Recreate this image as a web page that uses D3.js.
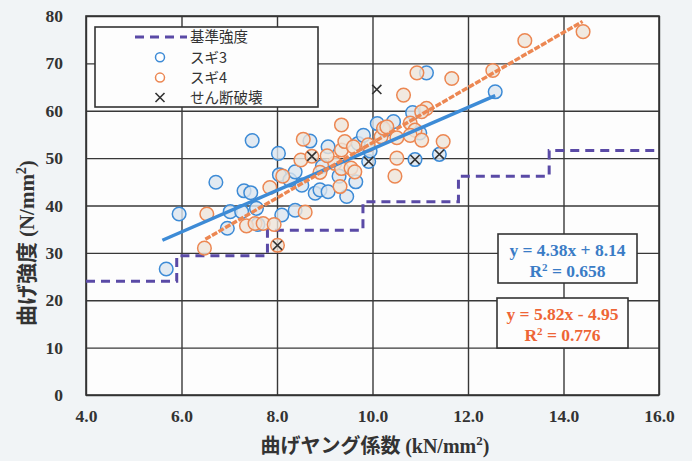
<!DOCTYPE html>
<html><head><meta charset="utf-8">
<script src="https://cdn.jsdelivr.net/npm/d3@7"></script>
<style>
html,body{margin:0;padding:0;background:#f1f4f6;}
svg{display:block;}
</style></head><body>
<svg id="chart" width="692" height="461"></svg>
<script>
// Bending modulus of elasticity (kN/mm²) vs bending strength (N/mm²)
const xTicks = [4, 6, 8, 10, 12, 14, 16];
const yTicks = [0, 10, 20, 30, 40, 50, 60, 70, 80];

// スギ3 specimens: [MOE, strength]
const sugi3 = [
  [5.68,26.6],[5.95,38.2],[6.72,44.9],[6.96,35.2],[7.02,38.7],[7.26,38.7],[7.31,43.1],
  [7.45,42.7],[7.48,53.7],[7.57,39.4],[7.60,36.0],[8.03,51.0],[8.05,46.5],[8.10,38.0],
  [8.27,45.4],[8.38,47.1],[8.52,44.3],[8.38,39.0],[8.69,53.6],[8.80,42.6],[8.90,43.3],
  [9.07,42.9],[9.07,52.4],[9.46,41.9],[9.65,45.0],[9.70,53.1],[9.81,54.8],[9.92,49.3],
  [10.26,55.9],[10.44,57.7],[10.84,59.6],[10.89,49.7],[11.13,68.0],[11.40,50.8],
  [12.57,64.0],[10.99,55.3],[9.95,51.5],[8.95,48.3],[10.10,57.3],[9.30,46.2]
];
// スギ4 specimens
const sugi4 = [
  [6.48,31.0],[6.53,38.2],[7.36,35.7],[7.54,36.2],[7.71,36.2],[7.94,36.0],[7.85,43.8],
  [8.12,46.2],[8.01,31.6],[8.55,54.0],[8.50,49.6],[8.59,38.6],[8.73,50.4],[9.21,48.9],
  [9.32,44.0],[9.35,47.8],[9.35,51.7],[9.35,57.0],[9.42,53.5],[9.55,47.9],[9.60,52.4],
  [9.63,47.1],[9.91,52.8],[10.18,54.5],[10.23,56.3],[10.30,56.6],[10.47,46.2],[10.51,50.0],
  [10.51,54.3],[10.65,63.3],[10.79,57.4],[10.89,55.9],[10.79,54.8],[10.93,68.0],[11.03,53.8],
  [11.13,60.5],[11.48,53.5],[11.66,66.8],[12.52,68.5],[13.19,74.8],[14.41,76.7],[11.03,59.8],
  [9.05,50.5],[8.90,47.0]
];
// specimens that failed in shear
const shear = [[8.01,31.6],[8.73,50.4],[9.92,49.3],[10.89,49.7],[11.40,50.8],[10.09,64.5]];

// design bending strength by machine grade (E50 … E150)
const baseStrength = [
  [4,24.0],[5.9,24.0],[5.9,29.4],[7.8,29.4],[7.8,34.8],[9.8,34.8],[9.8,40.8],
  [11.8,40.8],[11.8,46.2],[13.7,46.2],[13.7,51.6],[16,51.6]
];

// linear fits
const fit3 = {slope: 4.38, intercept: 8.14, r2: "0.658", from: 5.6, to: 12.57};
const fit4 = {slope: 5.82, intercept: -4.95, r2: "0.776", from: 6.5, to: 14.4};

const legendLabels = ["基準強度", "スギ3", "スギ4", "せん断破壊"];

const C3 = "#3d8bd6", C4 = "#ec8752", CBASE = "#5a4aa6";
const serif = "'Liberation Serif','Times New Roman',serif";
const jp = "'Noto Sans CJK JP','Noto Sans',sans-serif";

const svg = d3.select("#chart");
const L = 86, R = 659, T = 16, B = 395;
const x = d3.scaleLinear().domain([4, 16]).range([L, R]);
const y = d3.scaleLinear().domain([0, 80]).range([B, T]);

svg.append("rect").attr("x", L).attr("y", T).attr("width", R - L).attr("height", B - T).attr("fill", "#fdfdfd");

// grid
svg.append("g").attr("transform", `translate(0,${B})`)
  .call(d3.axisBottom(x).tickValues(xTicks).tickSize(-(B - T)).tickFormat(""))
  .call(g => { g.select(".domain").remove(); g.selectAll("line").attr("stroke", "#383838").attr("stroke-width", 1.4); });
svg.append("g").attr("transform", `translate(${L},0)`)
  .call(d3.axisLeft(y).tickValues(yTicks).tickSize(-(R - L)).tickFormat(""))
  .call(g => { g.select(".domain").remove(); g.selectAll("line").attr("stroke", "#383838").attr("stroke-width", 1.4); });

svg.append("rect").attr("x", L).attr("y", T).attr("width", R - L).attr("height", B - T)
  .attr("fill", "none").attr("stroke", "#333").attr("stroke-width", 1.6);

// tick labels
svg.append("g").attr("transform", `translate(0,${B})`)
  .call(d3.axisBottom(x).tickValues(xTicks).tickSize(0).tickPadding(15).tickFormat(d3.format(".1f")))
  .call(g => { g.select(".domain").remove(); g.selectAll("text").attr("font-family", serif).attr("font-weight", "bold").attr("font-size", 17.5).attr("fill", "#333"); });
svg.append("g").attr("transform", `translate(${L},0)`)
  .call(d3.axisLeft(y).tickValues(yTicks).tickSize(0).tickPadding(23).tickFormat(d3.format("d")))
  .call(g => { g.select(".domain").remove(); g.selectAll("text").attr("font-family", serif).attr("font-weight", "bold").attr("font-size", 17.5).attr("fill", "#333"); });

// base strength steps
svg.append("path").datum(baseStrength)
  .attr("d", d3.line().x(d => x(d[0])).y(d => y(d[1])))
  .attr("fill", "none").attr("stroke", CBASE).attr("stroke-width", 3).attr("stroke-dasharray", "9,6");

// specimens
function dots(data, col, fill) {
  svg.append("g").selectAll("circle").data(data).join("circle")
    .attr("cx", d => x(d[0])).attr("cy", d => y(d[1])).attr("r", 6.8)
    .attr("fill", fill).attr("fill-opacity", 0.8).attr("stroke", col).attr("stroke-width", 1.5);
}
dots(sugi3, C3, "#dbe5ef");
dots(sugi4, C4, "#eee4d8");

// regression lines
function fitLine(f, col, dash) {
  svg.append("line")
    .attr("x1", x(f.from)).attr("y1", y(f.slope * f.from + f.intercept))
    .attr("x2", x(f.to)).attr("y2", y(f.slope * f.to + f.intercept))
    .attr("stroke", col).attr("stroke-width", 3.4).attr("stroke-dasharray", dash);
}
fitLine(fit3, C3, null);
fitLine(fit4, C4, "6,1.6");

// shear failure marks
function cross(g, cx, cy, s) {
  g.append("path").attr("d", `M${cx - s},${cy - s}L${cx + s},${cy + s}M${cx - s},${cy + s}L${cx + s},${cy - s}`)
    .attr("stroke", "#333").attr("stroke-width", 1.6).attr("fill", "none");
}
const gx = svg.append("g");
shear.forEach(d => cross(gx, x(d[0]), y(d[1]), 4.6));

// legend
const lg = svg.append("g");
lg.append("rect").attr("x", 95).attr("y", 27).attr("width", 223).attr("height", 80)
  .attr("fill", "#fdfdfd").attr("stroke", "#333").attr("stroke-width", 1.6);
const rows = [37, 57.3, 77.6, 97.5];
lg.append("line").attr("x1", 135).attr("x2", 187).attr("y1", rows[0]).attr("y2", rows[0])
  .attr("stroke", CBASE).attr("stroke-width", 3).attr("stroke-dasharray", "9,6");
lg.append("circle").attr("cx", 160).attr("cy", rows[1]).attr("r", 4.5).attr("fill", "#fff").attr("stroke", C3).attr("stroke-width", 1.5);
lg.append("circle").attr("cx", 160).attr("cy", rows[2]).attr("r", 4.5).attr("fill", "#fff").attr("stroke", C4).attr("stroke-width", 1.5);
cross(lg, 160, rows[3], 4.5);
legendLabels.forEach((t, i) => {
  lg.append("text").attr("x", 190).attr("y", rows[i]).attr("dy", "0.36em")
    .attr("font-family", jp).attr("font-size", 14.5).attr("fill", "#333").text(t);
});

// fit equation boxes
function eqBox(f, col, bx, by, bw, bh) {
  const g = svg.append("g");
  g.append("rect").attr("x", bx).attr("y", by).attr("width", bw).attr("height", bh)
    .attr("fill", "#fdfdfd").attr("stroke", "#333").attr("stroke-width", 1.6);
  const sign = f.intercept < 0 ? "-" : "+";
  const t1 = `y = ${f.slope.toFixed(2)}x ${sign} ${Math.abs(f.intercept).toFixed(2)}`;
  const tx = g.append("text").attr("x", bx + bw / 2).attr("text-anchor", "middle")
    .attr("font-family", serif).attr("font-weight", "bold").attr("font-size", 17.5).attr("fill", col);
  tx.append("tspan").attr("x", bx + bw / 2).attr("y", by + 22).text(t1);
  const l2 = tx.append("tspan").attr("x", bx + bw / 2).attr("y", by + 43);
  l2.append("tspan").text("R");
  l2.append("tspan").attr("font-size", 11).attr("dy", -6).text("2");
  l2.append("tspan").attr("dy", 6).text(` = ${f.r2}`);
}
eqBox(fit3, "#3a7cc6", 498, 234, 139, 49);
eqBox(fit4, "#ee6536", 497, 298, 131, 50);

// axis titles
const xt = svg.append("text").attr("x", 375).attr("y", 453).attr("text-anchor", "middle")
  .attr("font-weight", "bold").attr("font-size", 20).attr("fill", "#333");
xt.append("tspan").attr("font-family", jp).text("曲げヤング係数 ");
xt.append("tspan").attr("font-family", serif).text("(kN/mm");
xt.append("tspan").attr("font-family", serif).attr("font-size", 13).attr("dy", -8).text("2");
xt.append("tspan").attr("font-family", serif).attr("dy", 8).text(")");

const yt = svg.append("text").attr("transform", "translate(34,243) rotate(-90)").attr("text-anchor", "middle")
  .attr("font-weight", "bold").attr("font-size", 21).attr("fill", "#333");
yt.append("tspan").attr("font-family", jp).text("曲げ強度 ");
yt.append("tspan").attr("font-family", serif).text("(N/mm");
yt.append("tspan").attr("font-family", serif).attr("font-size", 14).attr("dy", -8).text("2");
yt.append("tspan").attr("font-family", serif).attr("dy", 8).text(")");
</script>
</body></html>
